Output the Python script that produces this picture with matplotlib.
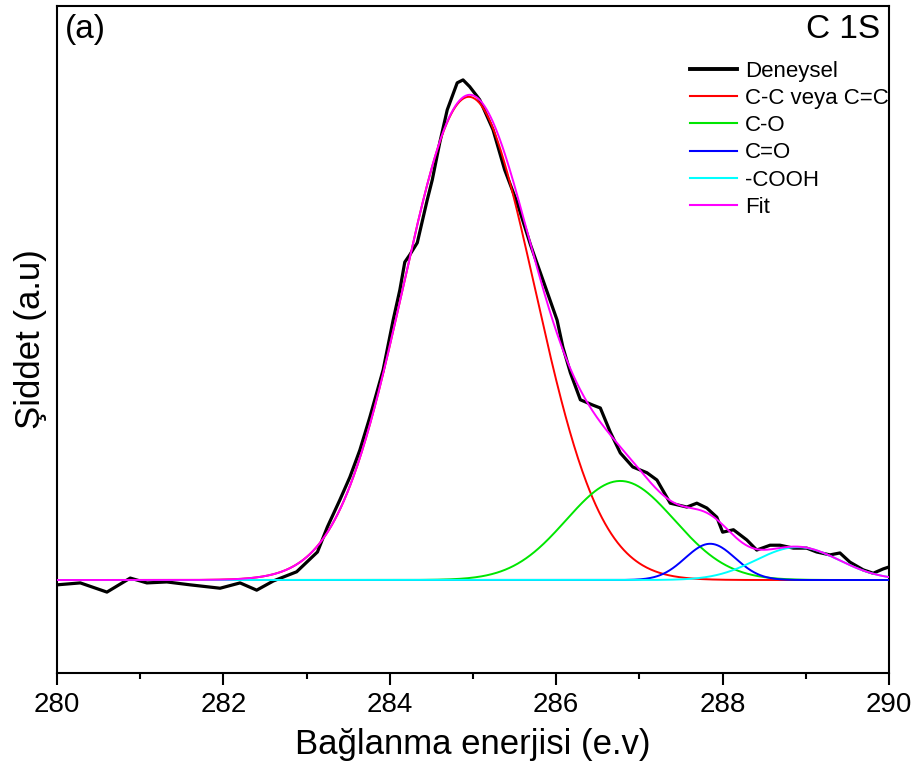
import numpy as np
import matplotlib
matplotlib.use("Agg")
import matplotlib.pyplot as plt

plt.rcParams['font.family'] = ['Liberation Sans', 'DejaVu Sans']

# === Datos deneysel (okunan) ===
enerji = [280.00, 280.28, 280.60, 280.88, 281.08, 281.32, 281.60, 281.96, 282.20, 282.40,
          282.60, 282.88, 283.13, 283.25, 283.40, 283.52, 283.64, 283.76, 283.92, 284.04,
          284.12, 284.18, 284.24, 284.33, 284.45, 284.51, 284.60, 284.69, 284.81, 284.88,
          284.96, 285.08, 285.24, 285.38, 285.53, 285.69, 285.84, 286.01, 286.08, 286.17,
          286.29, 286.44, 286.53, 286.65, 286.77, 286.92, 287.09, 287.21, 287.37, 287.57,
          287.69, 287.81, 287.93, 288.00, 288.13, 288.29, 288.41, 288.57, 288.69, 288.85,
          289.01, 289.13, 289.29, 289.41, 289.53, 289.69, 289.81, 289.93, 290.00]
siddet = [-0.010, -0.006, -0.025, 0.004, -0.006, -0.004, -0.010, -0.017, -0.006, -0.021,
          -0.002, 0.017, 0.058, 0.110, 0.166, 0.213, 0.269, 0.337, 0.435, 0.538,
          0.600, 0.658, 0.673, 0.698, 0.787, 0.828, 0.905, 0.973, 1.029, 1.035,
          1.021, 0.994, 0.932, 0.849, 0.781, 0.694, 0.621, 0.538, 0.482, 0.429,
          0.373, 0.362, 0.356, 0.306, 0.263, 0.234, 0.222, 0.207, 0.159, 0.151,
          0.159, 0.149, 0.130, 0.099, 0.104, 0.083, 0.062, 0.072, 0.072, 0.066,
          0.066, 0.058, 0.052, 0.056, 0.037, 0.021, 0.014, 0.023, 0.027]

# === Fit bileşenleri (merkez, yükseklik, sigma) ===
bilesen_adlari = ["C-C veya C=C", "C-O", "C=O", "-COOH"]
merkezler = [284.95, 286.77, 287.85, 288.90]
yukseklikler = [1.000, 0.205, 0.075, 0.068]
sigmalar = [0.79, 0.65, 0.30, 0.50]
renkler = ["#ff0000", "#00e600", "#0000ff", "#00ffff"]


def gauss(x, c, h, s):
    return h * np.exp(-(x - c) ** 2 / (2 * s ** 2))


x = np.linspace(280, 290, 801)
bilesenler = [gauss(x, c, h, s) for c, h, s in zip(merkezler, yukseklikler, sigmalar)]
fit = np.sum(bilesenler, axis=0)

fig = plt.figure(figsize=(9.21, 7.76), dpi=100)
ax = fig.add_axes([0.0619, 0.1327, 0.9034, 0.8596])

ax.plot(enerji, siddet, color="black", lw=2.3, label="Deneysel", zorder=2)
for y, ad, r in zip(bilesenler, bilesen_adlari, renkler):
    ax.plot(x, y, color=r, lw=1.4, label=ad, zorder=3)
ax.plot(x, fit, color="#ff00ff", lw=1.4, label="Fit", zorder=4)

ax.set_xlim(280, 290)
ax.set_ylim(-0.1925, 1.188)
ax.set_xticks([280, 282, 284, 286, 288, 290])
ax.set_xticks(np.arange(281, 290, 2), minor=True)
ax.set_yticks([])
ax.tick_params(axis="x", which="major", direction="out", length=8.6, width=1.5,
               labelsize=20, pad=5)
ax.tick_params(axis="x", which="minor", direction="out", length=4.3, width=1.5)
for sp in ax.spines.values():
    sp.set_linewidth(1.5)

ax.set_xlabel("Bağlanma enerjisi (e.v)", fontsize=25, labelpad=7)
ax.set_ylabel("Şiddet (a.u)", fontsize=25, labelpad=7)

ax.text(0.01, 0.988, "(a)", transform=ax.transAxes, fontsize=24, ha="left", va="top")
ax.text(0.989, 0.988, "C 1S", transform=ax.transAxes, fontsize=24, ha="right", va="top")

leg = ax.legend(loc="upper right", bbox_to_anchor=(1.0, 0.918), frameon=False,
                fontsize=16, handlelength=2.15, handletextpad=0.36,
                labelspacing=0.28, borderpad=0, borderaxespad=0)
for h in leg.get_lines():
    h.set_linewidth(1.5)
leg.get_lines()[0].set_linewidth(2.8)

fig.savefig("out.png", dpi=100)
